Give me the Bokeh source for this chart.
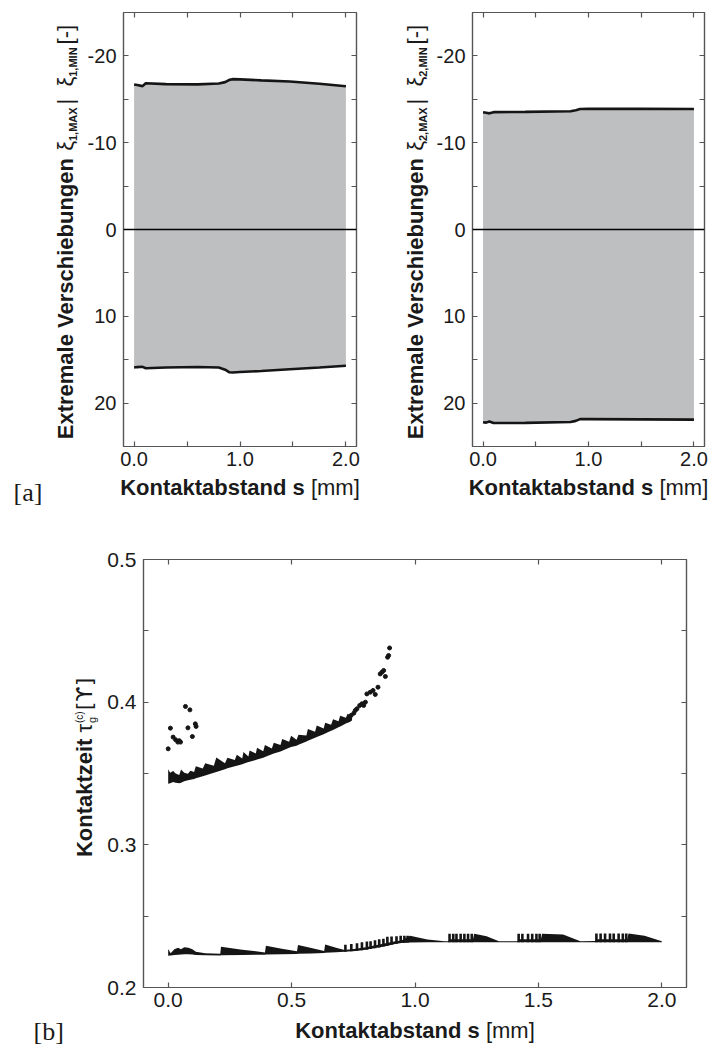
import math
from bokeh.plotting import figure
from bokeh.models import Range1d, FixedTicker, LinearAxis, Span
from bokeh.layouts import column, row
from bokeh.embed import file_html
from bokeh.resources import INLINE
from bokeh.core.properties import value

# ---------------- data: panel [a], left (xi_1) ----------------
s1 = [0.00, 0.03, 0.08, 0.11, 0.30, 0.60, 0.80, 0.86, 0.90, 0.93, 1.00, 1.20, 1.47, 1.75, 2.00]
xi1_max = [-16.70, -16.65, -16.52, -16.85, -16.75, -16.72, -16.82, -16.98, -17.24, -17.32, -17.30, -17.18, -17.05, -16.80, -16.50]
xi1_min = [15.90, 15.85, 15.82, 15.98, 15.90, 15.84, 15.90, 16.15, 16.45, 16.48, 16.42, 16.30, 16.10, 15.90, 15.70]

# ---------------- data: panel [a], right (xi_2) ----------------
s2 = [0.00, 0.03, 0.06, 0.10, 0.40, 0.83, 0.88, 0.92, 1.00, 1.50, 2.00]
xi2_max = [-13.50, -13.45, -13.38, -13.52, -13.55, -13.62, -13.75, -13.88, -13.90, -13.90, -13.88]
xi2_min = [22.20, 22.25, 22.12, 22.30, 22.28, 22.18, 22.05, 21.85, 21.85, 21.88, 21.90]

# ---------------- data: panel [b] ----------------
# upper branch: dense band (lower / upper edge)
up_s = [0.000, 0.008, 0.020, 0.030, 0.045, 0.052, 0.065, 0.080, 0.090, 0.105, 0.112, 0.140, 0.150, 0.185,
        0.195, 0.230, 0.240, 0.270, 0.278, 0.300, 0.305, 0.325, 0.330, 0.355, 0.360, 0.385, 0.392, 0.420,
        0.428, 0.455, 0.462, 0.490, 0.498, 0.520, 0.528, 0.560, 0.566, 0.595, 0.602, 0.630, 0.636, 0.660,
        0.668, 0.690, 0.697, 0.720, 0.727, 0.745]
up_lo = [0.3428, 0.3432, 0.3440, 0.3436, 0.3432, 0.3436, 0.3446, 0.3452, 0.3456, 0.3462, 0.3466, 0.3480, 0.3486, 0.3505,
         0.3510, 0.3530, 0.3536, 0.3550, 0.3555, 0.3565, 0.3568, 0.3580, 0.3583, 0.3595, 0.3598, 0.3610, 0.3615, 0.3635,
         0.3640, 0.3655, 0.3660, 0.3680, 0.3685, 0.3695, 0.3702, 0.3725, 0.3730, 0.3750, 0.3755, 0.3775, 0.3780, 0.3800,
         0.3805, 0.3825, 0.3830, 0.3850, 0.3855, 0.3872]
up_hi = [0.3530, 0.3505, 0.3518, 0.3500, 0.3490, 0.3528, 0.3505, 0.3498, 0.3520, 0.3510, 0.3550, 0.3535, 0.3572, 0.3555,
         0.3612, 0.3572, 0.3610, 0.3595, 0.3632, 0.3606, 0.3650, 0.3620, 0.3662, 0.3640, 0.3680, 0.3656, 0.3700, 0.3676,
         0.3716, 0.3700, 0.3742, 0.3722, 0.3765, 0.3736, 0.3772, 0.3766, 0.3812, 0.3792, 0.3836, 0.3816, 0.3856, 0.3842,
         0.3880, 0.3866, 0.3905, 0.3890, 0.3918, 0.3902]
# upper branch: isolated points
pt_s = [0.000, 0.009, 0.020, 0.030, 0.039, 0.045, 0.050, 0.070, 0.080, 0.088, 0.098, 0.110, 0.113,
        0.731, 0.741, 0.752, 0.758, 0.765, 0.776, 0.785, 0.792, 0.799, 0.805, 0.819, 0.830, 0.839,
        0.850, 0.859, 0.866, 0.873, 0.880, 0.889, 0.893, 0.897]
pt_t = [0.3673, 0.3818, 0.3755, 0.3737, 0.3720, 0.3730, 0.3720, 0.3970, 0.3820, 0.3946, 0.3759, 0.3848, 0.3830,
        0.3876, 0.3907, 0.3923, 0.3942, 0.3954, 0.3977, 0.3989, 0.3977, 0.4000, 0.4058, 0.4070, 0.4082, 0.4054,
        0.4105, 0.4198, 0.4210, 0.4222, 0.4180, 0.4315, 0.4327, 0.4380]
# lower branch: filled envelope
lo_s = [0.000, 0.010, 0.025, 0.040, 0.052, 0.065, 0.082, 0.098, 0.112, 0.150, 0.211, 0.214, 0.300, 0.392,
        0.396, 0.460, 0.522, 0.526, 0.580, 0.632, 0.636, 0.680, 0.715, 0.760, 0.800, 0.840, 0.880, 0.920,
        0.945, 0.980, 1.050, 1.120, 1.135, 1.140, 1.235, 1.240, 1.290, 1.340, 1.415, 1.420, 1.510, 1.515, 1.600,
        1.670, 1.730, 1.735, 1.860, 1.865, 1.930, 2.000]
lo_lo = [0.2222, 0.2224, 0.2227, 0.2229, 0.2231, 0.2233, 0.2233, 0.2231, 0.2228, 0.2226, 0.2225, 0.2226, 0.2228, 0.2230,
         0.2231, 0.2233, 0.2235, 0.2236, 0.2239, 0.2242, 0.2243, 0.2247, 0.2250, 0.2256, 0.2264, 0.2276, 0.2290, 0.2305,
         0.2312, 0.2316, 0.2317, 0.2317, 0.2317, 0.2317, 0.2318, 0.2318, 0.2318, 0.2318, 0.2318, 0.2318, 0.2318, 0.2318, 0.2318,
         0.2318, 0.2318, 0.2318, 0.2318, 0.2318, 0.2318, 0.2318]
lo_hi = [0.2270, 0.2240, 0.2268, 0.2278, 0.2268, 0.2283, 0.2278, 0.2268, 0.2250, 0.2240, 0.2236, 0.2285, 0.2265, 0.2246,
         0.2292, 0.2272, 0.2254, 0.2298, 0.2276, 0.2256, 0.2302, 0.2278, 0.2262, 0.2272, 0.2282, 0.2296, 0.2310, 0.2325,
         0.2330, 0.2362, 0.2336, 0.2324, 0.2325, 0.2338, 0.2338, 0.2376, 0.2360, 0.2325, 0.2325, 0.2338, 0.2338, 0.2377, 0.2372,
         0.2325, 0.2326, 0.2338, 0.2338, 0.2378, 0.2362, 0.2324]
# lower branch: vertical spikes
sp_s = [0.718, 0.742, 0.765, 0.785, 0.805, 0.820, 0.838, 0.855, 0.872, 0.888, 0.905, 0.925, 0.942, 0.957, 0.970,
        1.140, 1.155, 1.168, 1.185, 1.200, 1.215, 1.230,
        1.420, 1.435, 1.458, 1.475, 1.492, 1.505,
        1.735, 1.752, 1.770, 1.790, 1.805, 1.825, 1.842, 1.856]
sp_base = [0.2251, 0.2254, 0.2257, 0.2261, 0.2265, 0.2270, 0.2275, 0.2281, 0.2287, 0.2293, 0.2299, 0.2307, 0.2312, 0.2314, 0.2315,
           0.2317, 0.2317, 0.2317, 0.2317, 0.2318, 0.2318, 0.2318,
           0.2318, 0.2318, 0.2318, 0.2318, 0.2318, 0.2318,
           0.2318, 0.2318, 0.2318, 0.2318, 0.2318, 0.2318, 0.2318, 0.2318]
sp_top = [0.2300, 0.2305, 0.2310, 0.2318, 0.2322, 0.2325, 0.2332, 0.2338, 0.2342, 0.2355, 0.2358, 0.2360, 0.2362, 0.2362, 0.2362,
          0.2376, 0.2376, 0.2376, 0.2376, 0.2376, 0.2376, 0.2376,
          0.2377, 0.2377, 0.2377, 0.2377, 0.2377, 0.2377,
          0.2378, 0.2378, 0.2378, 0.2378, 0.2378, 0.2378, 0.2378, 0.2378]

# ---------------- ticks ----------------
a_xticks = [0.0, 0.5, 1.0, 1.5, 2.0]
a_xlabels = ["0.0", "", "1.0", "", "2.0"]
a_yticks = [-20, -15, -10, -5, 0, 5, 10, 15, 20]
a_ylabels = ["-20", "", "-10", "", "0", "", "10", "", "20"]
b_xticks = [0.0, 0.5, 1.0, 1.5, 2.0]
b_xlabels = ["0.0", "0.5", "1.0", "1.5", "2.0"]
b_yticks = [0.2, 0.25, 0.3, 0.35, 0.4, 0.45, 0.5]
b_ylabels = ["0.2", "", "0.3", "", "0.4", "", "0.5"]

FONT = "Liberation Sans"
TXT = "#1a1a1a"
FRAME = "#555555"
DATA = "#151515"
GRAY = "#bebfc1"

# Arial-metric advance widths (per 1000 em)
W_REG = {' ': 278, '[': 278, ']': 278, '-': 333, '|': 260, ',': 278, 'm': 833, '(': 333, ')': 333,
         'c': 500, 'g': 556, 'ξ': 440, 'τ': 430, 'ϒ': 640}
W_BOLD = {'E': 667, 'x': 556, 't': 333, 'r': 389, 'e': 556, 'm': 889, 'a': 556, 'l': 278, ' ': 278,
          'V': 667, 's': 556, 'c': 556, 'h': 611, 'i': 278, 'b': 611, 'u': 611, 'n': 611, 'g': 611,
          'K': 722, 'o': 611, 'k': 556, 'z': 500, 'd': 611, '1': 556, '2': 556, ',': 278, 'M': 833,
          'A': 722, 'X': 667, 'I': 278, 'N': 722}
BASE_FIX = 0.35  # renderer places the alphabetic baseline this fraction of the size too low


def tw(text, size, bold):
    tab = W_BOLD if bold else W_REG
    return sum(tab.get(ch, 556) for ch in text) * size / 1000.0


def text_fig(w, h, top=0, bottom=0):
    # data coordinates = pixels from the figure's bottom-left corner
    f = figure(width=w, height=h, x_range=Range1d(0, w), y_range=Range1d(bottom, h - top),
               output_backend="svg", toolbar_location=None, x_axis_type=None, y_axis_type=None,
               title=None, min_border=0, min_border_left=0, min_border_right=0,
               min_border_top=top, min_border_bottom=bottom)
    f.outline_line_color = None
    f.xgrid.visible = False
    f.ygrid.visible = False
    return f


def put(f, x, y, t, size, bold, font=FONT, angle=0.0):
    d = BASE_FIX * size
    if angle:
        x -= d
    else:
        y += d
    f.text(x=[x], y=[y], text=[t], angle=angle, text_font=value(font),
           text_font_size=value(f"{size}px"), text_font_style="bold" if bold else "normal",
           text_baseline="alphabetic", text_align="left", text_color=TXT)


def compose(f, pieces, xb, yb, vertical):
    """pieces: (text, size, bold, shift, advance, font, pad); shift > 0 means subscript"""
    total = sum(tw(t, sz, b) + pd if adv else 0 for (t, sz, b, sh, adv, fn, pd) in pieces)
    pos = -total / 2.0
    for (t, sz, b, sh, adv, fn, pd) in pieces:
        if vertical:
            put(f, xb + sh, yb + pos, t, sz, b, fn, math.pi / 2)
        else:
            put(f, xb + pos, yb - sh, t, sz, b, fn)
        if adv:
            pos += tw(t, sz, b) + pd


def style(p, xt, xl, yt, yl, fs, xstand):
    p.xgrid.visible = False
    p.ygrid.visible = False
    p.outline_line_color = FRAME
    p.outline_line_width = 1.2
    for ax, t, l in ((p.xaxis[0], xt, xl), (p.yaxis[0], yt, yl)):
        ax.ticker = FixedTicker(ticks=t)
        ax.major_label_overrides = {v: s for v, s in zip(t, l)}
        ax.major_tick_in = 5
        ax.major_tick_out = 0
        ax.minor_tick_line_color = None
        ax.axis_line_color = FRAME
        ax.axis_line_width = 1.2
        ax.major_tick_line_color = FRAME
        ax.major_tick_line_width = 1.2
        ax.major_label_text_font = FONT
        ax.major_label_text_font_size = fs
        ax.major_label_text_color = TXT
        ax.major_label_standoff = 7
    p.xaxis[0].major_label_standoff = xstand
    for t, side in ((xt, "above"), (yt, "right")):
        ax = LinearAxis(ticker=FixedTicker(ticks=t), major_tick_in=5, major_tick_out=0,
                        minor_tick_line_color=None, axis_line_color=FRAME, axis_line_width=1.2,
                        major_tick_line_color=FRAME, major_tick_line_width=1.2,
                        major_label_overrides={v: "" for v in t}, major_label_standoff=0)
        p.add_layout(ax, side)


TOP_H = 474


def panel_a(s, ymax, ymin, width, left, right):
    p = figure(width=width, height=TOP_H, x_range=Range1d(-0.1, 2.1), y_range=Range1d(25, -25),
               output_backend="svg", toolbar_location=None, title=None,
               min_border_left=left, min_border_right=right, min_border_top=12, min_border_bottom=28)
    style(p, a_xticks, a_xlabels, a_yticks, a_ylabels, "20px", 5)
    p.varea(x=s, y1=ymin, y2=ymax, fill_color=GRAY)
    p.add_layout(Span(location=0, dimension="width", line_color="black", line_width=1.5))
    p.line(s, ymax, line_color=DATA, line_width=2.6)
    p.line(s, ymin, line_color=DATA, line_width=2.6)
    return p


def ylabel_a(f, sub, xb, yc):
    compose(f, [("Extremale Verschiebungen ", 22, True, 0, True, FONT, 0),
                ("ξ", 22, False, 0, True, FONT, 0),
                (sub + ",MAX", 11, True, 3, True, FONT, 3),
                (" | ", 22, False, 0, True, FONT, 0),
                ("ξ", 22, False, 0, True, FONT, 0),
                (sub + ",MIN", 11, True, 3, True, FONT, 3),
                (" [-]", 22, False, 0, True, FONT, 0)], xb, yc, True)


def xlabel(f, xc, yb):
    compose(f, [("Kontaktabstand s ", 22, True, 0, True, FONT, 0),
                ("[mm]", 22, False, 0, True, FONT, 0)], xc, yb, False)


# ---- top row (frame: y 12..446) ----
ya = text_fig(80, TOP_H, top=12, bottom=28)
ylabel_a(ya, "1", 73, TOP_H - 228.5)
pa = panel_a(s1, xi1_max, xi1_min, 296, 43, 20)
yb_ = text_fig(54, TOP_H, top=12, bottom=28)
ylabel_a(yb_, "2", 47, TOP_H - 228.5)
pb = panel_a(s2, xi2_max, xi2_min, 280, 42, 6)

# ---- strip under top row (y 474..512) ----
S_H = 512 - TOP_H
s_top = text_fig(710, S_H)
xlabel(s_top, 239.5, S_H - (495 - TOP_H))
xlabel(s_top, 588, S_H - (495 - TOP_H))
put(s_top, 13, S_H - (501 - TOP_H), "[a]", 26, False, "Liberation Serif")

# ---- bottom panel ----
yc_ = text_fig(100, 505, top=47, bottom=30)
compose(yc_, [("Kontaktzeit ", 22, True, 0, True, FONT, 0),
              ("τ", 22, False, 0, True, FONT, 0),
              ("g", 11, False, 3, False, FONT, 0),
              ("(c)", 10, False, -10, True, FONT, 1),
              (" [ϒ]", 22, False, 0, True, "DejaVu Sans", 0)], 92, 250, True)

pc = figure(width=610, height=505, x_range=Range1d(-0.1, 2.1), y_range=Range1d(0.2, 0.5),
            output_backend="svg", toolbar_location=None, title=None,
            min_border_left=43, min_border_right=24, min_border_top=47, min_border_bottom=30)
style(pc, b_xticks, b_xlabels, b_yticks, b_ylabels, "21px", 5)
pc.varea(x=up_s, y1=up_lo, y2=up_hi, fill_color=DATA)
pc.scatter(pt_s, pt_t, size=4, color=DATA)
pc.varea(x=lo_s, y1=lo_lo, y2=lo_hi, fill_color=DATA)
pc.segment(x0=sp_s, y0=sp_base, x1=sp_s, y1=sp_top, line_color=DATA, line_width=2.6)

s_bot = text_fig(710, 30)
xlabel(s_bot, 414.5, 9)
put(s_bot, 33, 7, "[b]", 26, False, "Liberation Serif")

layout = column(row(ya, pa, yb_, pb, spacing=0), s_top, row(yc_, pc, spacing=0), s_bot, spacing=0)
open("out.html", "w").write(file_html(layout, INLINE))
